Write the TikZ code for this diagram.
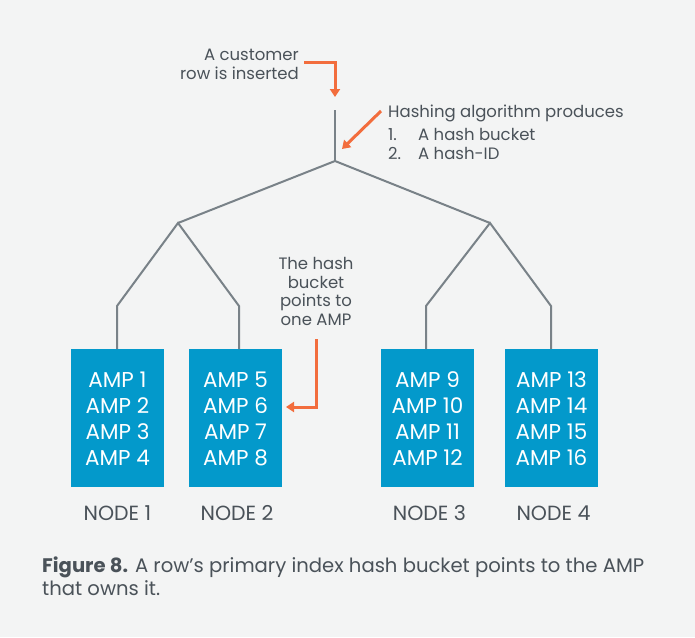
\documentclass[tikz,border=0pt]{standalone}
\usepackage{fontspec}
\setmainfont{Poppins}
\usetikzlibrary{arrows.meta}
\definecolor{bgc}{HTML}{F3F4F4}
\definecolor{txt}{HTML}{4A5259}
\definecolor{linec}{HTML}{798288}
\definecolor{orng}{HTML}{F26D3D}
\definecolor{boxc}{HTML}{0399CB}
\tikzset{
  ann/.style={inner sep=0pt, text=txt, font=\fontsize{16.5}{19}\selectfont},
  amp/.style={inner sep=0pt, text=white, font=\fontsize{21.5}{24}\selectfont, anchor=base},
  nodelbl/.style={inner sep=0pt, text=txt, font=\fontsize{20.5}{22}\selectfont, anchor=base},
  captxt/.style={inner sep=0pt, text=txt, font=\fontsize{19.6}{22}\selectfont, anchor=base west},
  tree/.style={draw=linec, line width=2pt, line join=miter},
  orarrow/.style={draw=orng, line width=3pt, -{Triangle[length=8pt,width=10pt]}},
  ampbox/.style={fill=boxc, draw=none}
}
\begin{document}
\begin{tikzpicture}[x=1pt,y=-1pt]
\useasboundingbox (0,0) rectangle (695,637);
\fill[bgc] (0,0) rectangle (695,637);

% boxes
\fill[ampbox] (71,349) rectangle (164,487);
\fill[ampbox] (189,349) rectangle (282,487);
\fill[ampbox] (381,349) rectangle (474,487);
\fill[ampbox] (505,349) rectangle (598,487);

% tree coordinates
\coordinate (top) at (335,110);
\coordinate (root) at (335,161);
\coordinate (lj) at (178,223);
\coordinate (rj) at (490,223);
\coordinate (l1) at (117,306);
\coordinate (l2) at (239,306);
\coordinate (r1) at (426,306);
\coordinate (r2) at (551,306);
\coordinate (b1) at (117,349);
\coordinate (b2) at (239,349);
\coordinate (b3) at (426,349);
\coordinate (b4) at (551,349);

\draw[tree] (top) -- (root);
\draw[tree] (lj) -- (root) -- (rj);
\draw[tree] (b1) -- (l1) -- (lj) -- (l2) -- (b2);
\draw[tree] (b3) -- (r1) -- (rj) -- (r2) -- (b4);

% AMP labels
\foreach \i/\x in {1/117.5, 5/235.5, 9/427.5, 13/551.5}{
  \foreach \j/\y in {0/387.3, 1/413.3, 2/439.3, 3/465.3}{
    \pgfmathtruncatemacro{\n}{\i+\j}
    \node[amp] (amp\n) at (\x,\y) {AMP \n};
  }
}

% NODE labels
\node[nodelbl] (n1) at (117.5,520) {NODE 1};
\node[nodelbl] (n2) at (237,520) {NODE 2};
\node[nodelbl] (n3) at (429.5,520) {NODE 3};
\node[nodelbl] (n4) at (553.5,520) {NODE 4};

% annotations
\node[ann, anchor=base east] (c1) at (299,60.7) {A customer};
\node[ann, anchor=base east] (c2) at (299,79) {row is inserted};
\node[ann, anchor=base west] (h0) at (388,117) {Hashing algorithm produces};
\node[ann, anchor=base west] (h1n) at (388,140) {1.};
\node[ann, anchor=base west] (h1) at (418,140) {A hash bucket};
\node[ann, anchor=base west] (h2n) at (388,159) {2.};
\node[ann, anchor=base west] (h2) at (418,159) {A hash-ID};
\node[ann, anchor=base] (t1) at (316,269) {The hash};
\node[ann, anchor=base] (t2) at (316,288) {bucket};
\node[ann, anchor=base] (t3) at (316,306.5) {points to};
\node[ann, anchor=base] (t4) at (316,325) {one AMP};

% orange arrows
\coordinate (a1s) at (304,62);
\coordinate (a1c) at (335,62);
\coordinate (a1e) at (335,97);
\draw[orarrow] (a1s) -- (a1c) -- (a1e);
\coordinate (a2s) at (381,111);
\coordinate (a2e) at (342,149);
\draw[orarrow] (a2s) -- (a2e);
\coordinate (a3s) at (316,339);
\coordinate (a3c) at (316,407);
\coordinate (a3e) at (286,407);
\draw[orarrow] (a3s) -- (a3c) -- (a3e);

% caption
\node[captxt] (cap1) at (42,572) {\textbf{Figure 8.} A row’s primary index hash bucket points to the AMP};
\node[captxt] (cap2) at (42,595.5) {that owns it.};
\end{tikzpicture}
\end{document}
